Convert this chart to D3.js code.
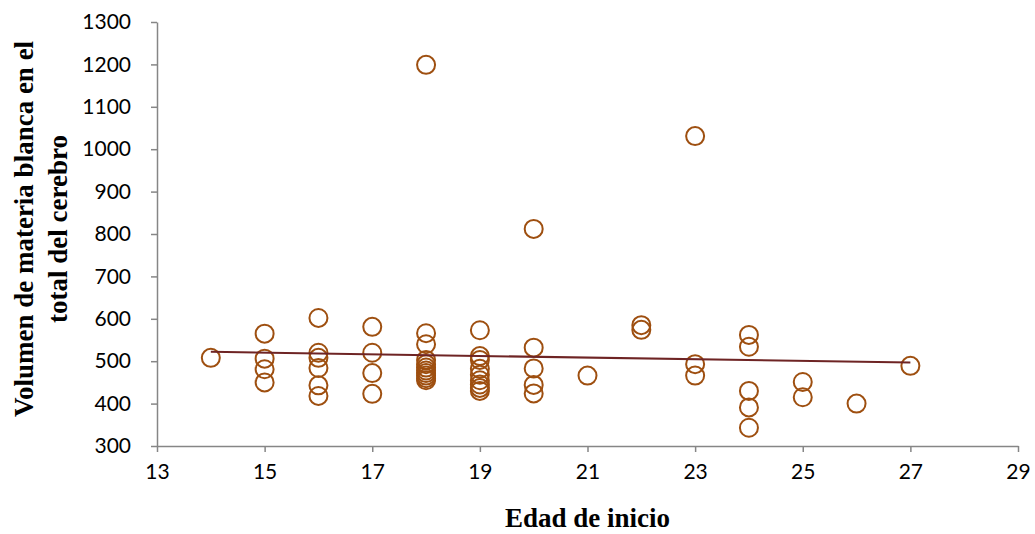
<!DOCTYPE html>
<html>
<head>
<meta charset="utf-8">
<script src="https://cdn.jsdelivr.net/npm/d3@7"></script>
<style>
  html, body { margin: 0; padding: 0; background: #fff; }
  svg { display: block; }
</style>
</head>
<body>
<svg id="chart" width="1035" height="534"></svg>
<script>
// ---- Data ----
const edadInicio = [
  14,
  15, 15, 15, 15,
  16, 16, 16, 16, 16, 16,
  17, 17, 17, 17,
  18, 18, 18, 18, 18, 18, 18, 18, 18, 18, 18,
  19, 19, 19, 19, 19, 19, 19, 19, 19,
  20, 20, 20, 20, 20,
  21,
  22, 22,
  23, 23, 23,
  24, 24, 24, 24, 24,
  25, 25,
  26,
  27
];
const volumen = [
  508,
  565, 506, 481, 450,
  602, 520, 508, 484, 443, 418,
  581, 520, 472, 423,
  1199, 566, 540, 503, 493, 485, 478, 472, 466, 460, 455,
  573, 512, 503, 482, 468, 455, 445, 437, 430,
  812, 532, 483, 444, 424,
  466,
  585, 574,
  1031, 493, 466,
  562, 534, 430, 391, 343,
  451, 415,
  400,
  489
];
// Linear trend line end points
const trendX = [14, 27];
const trendY = [522, 497];

const xTicks = [13, 15, 17, 19, 21, 23, 25, 27, 29];
const yTicks = [300, 400, 500, 600, 700, 800, 900, 1000, 1100, 1200, 1300];

const xTitle = "Edad de inicio";
const yTitleLines = ["Volumen de materia blanca en el", "total del cerebro"];

// ---- Layout ----
const svg = d3.select("#chart");
const mLeft = 157, mRight = 1018, mTop = 22, mBottom = 446;

const x = d3.scaleLinear().domain([13, 29]).range([mLeft, mRight]);
const y = d3.scaleLinear().domain([300, 1300]).range([mBottom, mTop]);

const axisColor = "#868686";
const tickFont = "Lato, 'Open Sans', sans-serif";

// X axis
const gx = svg.append("g")
  .attr("transform", `translate(0,${mBottom})`)
  .call(d3.axisBottom(x).tickValues(xTicks).tickSize(6).tickSizeOuter(0).tickPadding(12).tickFormat(d3.format("d")));
gx.select(".domain").attr("stroke", axisColor).attr("stroke-width", 1.5);
gx.selectAll(".tick line").attr("stroke", axisColor).attr("stroke-width", 1.5);
gx.selectAll(".tick text")
  .attr("fill", "#000")
  .style("font-family", tickFont)
  .style("font-size", "21px");

// Y axis
const gy = svg.append("g")
  .attr("transform", `translate(${mLeft},0)`)
  .call(d3.axisLeft(y).tickValues(yTicks).tickSize(6).tickSizeOuter(0).tickPadding(20).tickFormat(d3.format("d")));
gy.select(".domain").attr("stroke", axisColor).attr("stroke-width", 1.5);
gy.selectAll(".tick line").attr("stroke", axisColor).attr("stroke-width", 1.5);
gy.selectAll(".tick text")
  .attr("fill", "#000")
  .style("font-family", tickFont)
  .style("font-size", "21px");

// Points
const pts = edadInicio.map((d, i) => ({ x: d, y: volumen[i] }));
svg.append("g")
  .selectAll("circle")
  .data(pts)
  .join("circle")
  .attr("cx", d => x(d.x))
  .attr("cy", d => y(d.y))
  .attr("r", 9)
  .attr("fill", "none")
  .attr("stroke", "#9e4f10")
  .attr("stroke-width", 2);

// Trend line
const trend = trendX.map((d, i) => [d, trendY[i]]);
svg.append("path")
  .datum(trend)
  .attr("d", d3.line().x(d => x(d[0])).y(d => y(d[1])))
  .attr("fill", "none")
  .attr("stroke", "#6e2424")
  .attr("stroke-width", 2);

// Axis titles
const titleFont = "'Liberation Serif', 'Times New Roman', serif";
svg.append("text")
  .attr("x", (mLeft + mRight) / 2)
  .attr("y", 527)
  .attr("text-anchor", "middle")
  .style("font-family", titleFont)
  .style("font-weight", "bold")
  .style("font-size", "27px")
  .text(xTitle);

const yt = svg.append("text")
  .attr("transform", "translate(33,229) rotate(-90)")
  .attr("text-anchor", "middle")
  .style("font-family", titleFont)
  .style("font-weight", "bold")
  .style("font-size", "27px");
yTitleLines.forEach((t, i) => {
  yt.append("tspan")
    .attr("x", 0)
    .attr("y", i * 34)
    .text(t);
});
</script>
</body>
</html>
